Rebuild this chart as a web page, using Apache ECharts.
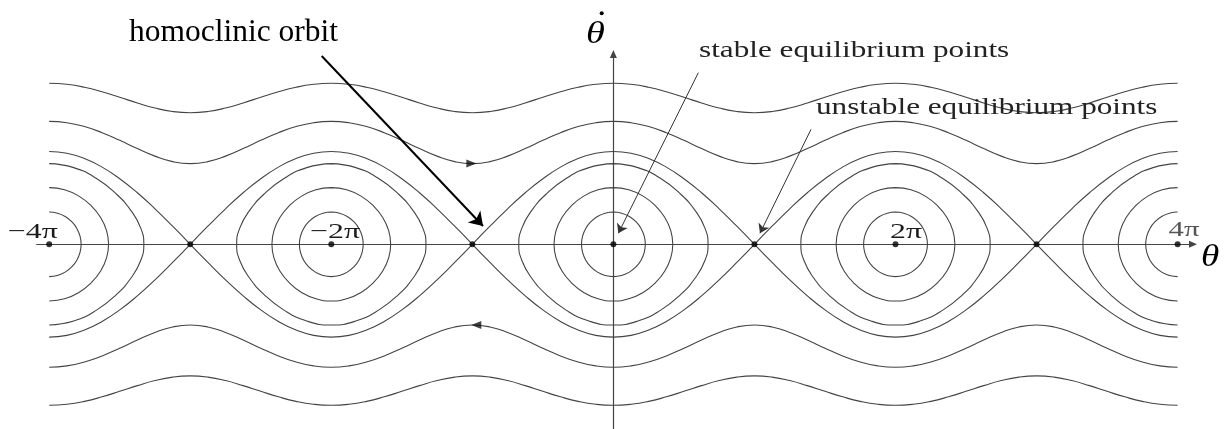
<!DOCTYPE html>
<html>
<head>
<meta charset="utf-8">
<script src="https://cdn.jsdelivr.net/npm/echarts@6/dist/echarts.min.js"></script>
<style>
html, body { margin: 0; padding: 0; background: #fff; }
#chart { width: 1228px; height: 429px; }
</style>
</head>
<body>
<div id="chart"></div>
<script>
// pendulum phase portrait: x = theta / pi, y = theta dot (separatrix peaks at 2)
const stablePoints = [-4, -2, 0, 2, 4];
const unstablePoints = [-3, -1, 1, 3];

// running orbits, read at theta/pi = 0, 1/8 ... 1 (period 2pi, mirrored)
const halfPeriod = [0, 0.125, 0.25, 0.375, 0.5, 0.625, 0.75, 0.875, 1];
const runOuter = [3.470, 3.448, 3.385, 3.287, 3.169, 3.046, 2.937, 2.862, 2.836];
const runInner = [2.650, 2.621, 2.537, 2.406, 2.241, 2.063, 1.900, 1.782, 1.739];
const separatrix = [2.000, 1.962, 1.848, 1.663, 1.414, 1.111, 0.765, 0.390, 0];

// libration orbits, one quarter: [offset from centre / pi, theta dot], top -> turning point
const libSmall = [[0, 0.696], [0.0586, 0.671], [0.1132, 0.600], [0.1600, 0.487], [0.1960, 0.342], [0.2186, 0.176], [0.2263, 0]];
const libMid = [[0, 1.222], [0.1090, 1.174], [0.2105, 1.038], [0.2977, 0.830], [0.3647, 0.576], [0.4067, 0.294], [0.4210, 0]];
const libLarge = [[0, 1.739], [0.1737, 1.653], [0.3356, 1.418], [0.4745, 1.088], [0.5812, 0.721], [0.6482, 0.355], [0.6711, 0]];
const centres = [-4, -2, 0, 2, 4];

// flow direction marks on the inner running orbits
const flowRight = [[-1.007, 1.739]];
const flowLeft = [[-0.972, -1.739]];

// pointers: [from, to]
const homoclinicPointer = [[-2.068, 4.058], [-0.9245, 0.394]];
const stablePointer = [[0.602, 3.698], [0.035, 0.237]];
const unstablePointer = [[1.401, 2.478], [1.039, 0.237]];

const curveStyle = { color: '#444', width: 1.1 };

function running(vals, sign) {
  const pts = [];
  for (let k = -32; k <= 32; k++) {
    let i = ((k % 16) + 16) % 16;
    if (i > 8) i = 16 - i;
    pts.push([k / 8, sign * vals[i]]);
  }
  return pts;
}

function arch(c, sign) {
  const pts = [];
  for (let j = -8; j <= 8; j++) {
    const x = c + j / 8;
    if (x < -4 || x > 4) continue;
    pts.push([x, sign * separatrix[Math.abs(j)]]);
  }
  return pts;
}

function loop(q, c) {
  const n = q.length;
  const pts = q.map(p => [c + p[0], p[1]]);
  for (let i = n - 2; i >= 0; i--) pts.push([c + q[i][0], -q[i][1]]);
  for (let i = 1; i < n; i++) pts.push([c - q[i][0], -q[i][1]]);
  for (let i = n - 2; i >= 0; i--) pts.push([c - q[i][0], q[i][1]]);
  return pts;
}

function halfLoop(q, c, dir) {
  const pts = q.map(p => [c + dir * p[0], p[1]]);
  for (let i = q.length - 2; i >= 0; i--) pts.push([c + dir * q[i][0], -q[i][1]]);
  return pts;
}

function curve(data) {
  return {
    type: 'line', data: data, showSymbol: false, symbol: 'none', smooth: 0.5,
    lineStyle: curveStyle, silent: true, z: 2
  };
}

const series = [];
[runOuter, runInner].forEach(v => {
  series.push(curve(running(v, 1)));
  series.push(curve(running(v, -1)));
});
centres.forEach(c => {
  series.push(curve(arch(c, 1)));
  series.push(curve(arch(c, -1)));
  [libSmall, libMid, libLarge].forEach(q => {
    let d;
    if (c === -4) d = halfLoop(q, c, 1);
    else if (c === 4) d = halfLoop(q, c, -1);
    else d = loop(q, c);
    series.push(curve(d));
  });
});

series.push({
  type: 'scatter', data: stablePoints.concat(unstablePoints).map(x => [x, 0]),
  symbolSize: 6, itemStyle: { color: '#000' }, z: 5
});
series.push({
  type: 'scatter', data: flowRight, symbol: 'triangle', symbolRotate: -90,
  symbolSize: [8, 10], itemStyle: { color: '#111' }, z: 5
});
series.push({
  type: 'scatter', data: flowLeft, symbol: 'triangle', symbolRotate: 90,
  symbolSize: [8, 10], itemStyle: { color: '#111' }, z: 5
});
series.push({
  type: 'lines', coordinateSystem: 'cartesian2d', z: 6,
  symbol: ['none', 'arrow'], symbolSize: 13,
  lineStyle: { color: '#000', width: 2, opacity: 1 },
  data: [{ coords: homoclinicPointer }]
});
series.push({
  type: 'lines', coordinateSystem: 'cartesian2d', z: 6,
  symbol: ['none', 'arrow'], symbolSize: 9,
  lineStyle: { color: '#333', width: 1, opacity: 1 },
  data: [{ coords: stablePointer }, { coords: unstablePointer }]
});

function label(text, x, y, size, opts) {
  opts = opts || {};
  return {
    type: 'text', x: x, y: y, scaleX: opts.sx || 1, z: 10,
    style: {
      text: text, x: 0, y: 0,
      font: (opts.italic ? 'italic ' : '') + size + 'px "Liberation Serif", serif',
      fill: opts.color || '#1a1a1a', textAlign: opts.align || 'left',
      verticalAlign: 'middle', textVerticalAlign: 'middle'
    }
  };
}

const chart = echarts.init(document.getElementById('chart'));
chart.setOption({
  animation: false,
  backgroundColor: '#fff',
  grid: { left: 36.7, right: 35, top: 54, bottom: 0, containLabel: false, outerBoundsMode: 'none' },
  xAxis: {
    type: 'value', min: -4.0886, max: 4.1091,
    axisLine: { onZero: true, symbol: ['none', 'triangle'], symbolSize: [7, 8], lineStyle: { color: '#444', width: 1.2 } },
    axisTick: { show: false }, axisLabel: { show: false }, splitLine: { show: false }
  },
  yAxis: {
    type: 'value', min: -3.9806, max: 4.1013,
    axisLine: { onZero: true, symbol: ['none', 'triangle'], symbolSize: [7, 8], lineStyle: { color: '#444', width: 1.2 } },
    axisTick: { show: false }, axisLabel: { show: false }, splitLine: { show: false }
  },
  series: series,
  graphic: [
    label('homoclinic orbit', 129, 32.7, 31.5, { color: '#000' }),
    label('stable equilibrium points', 699, 50.7, 24, { sx: 1.3, color: '#222' }),
    label('unstable equilibrium points', 816, 107.7, 24, { sx: 1.3, color: '#222' }),
    label('\u22124\u03c0', 32.8, 232.5, 22, { sx: 1.45, align: 'center' }),
    label('\u22122\u03c0', 335, 232.5, 22, { sx: 1.45, align: 'center' }),
    label('2\u03c0', 906, 232.5, 22, { sx: 1.45, align: 'center' }),
    label('4\u03c0', 1184, 230.5, 22, { sx: 1.4, align: 'center', color: '#555' }),
    label('\u03b8', 1201, 257.5, 31, { sx: 1.2, italic: true, color: '#000' }),
    label('\u03b8', 586, 35, 32, { sx: 1.2, italic: true, color: '#000' }),
    { type: 'circle', shape: { cx: 601.7, cy: 13.3, r: 2 }, style: { fill: '#000' }, z: 10 }
  ]
});
</script>
</body>
</html>
